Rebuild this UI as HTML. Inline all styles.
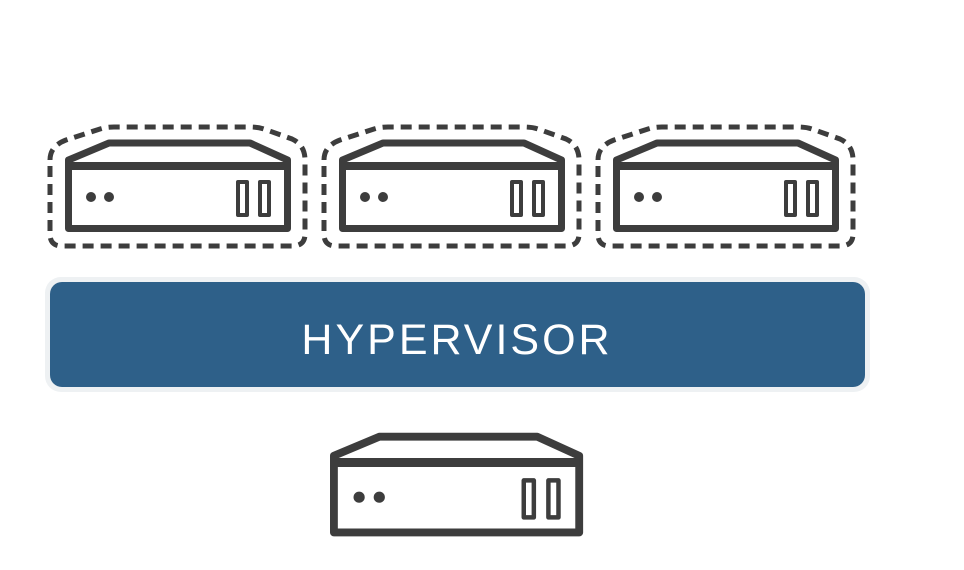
<!DOCTYPE html>
<html><head><style>
html,body{margin:0;padding:0;background:#fff;width:964px;height:570px;overflow:hidden}
</style></head><body>
<svg width="964" height="570" viewBox="0 0 964 570" xmlns="http://www.w3.org/2000/svg">
<defs>
<g id="srv" fill="none" stroke="#3d3d3d" stroke-width="7" stroke-linejoin="round">
  <path d="M3.5,66.5 V-2 L44,-19 H185 L222.5,-2 V66.5 Z"/>
  <line x1="3.5" y1="4" x2="222.5" y2="4" stroke-width="8"/>
  <circle cx="26" cy="35" r="5" fill="#3d3d3d" stroke="none"/>
  <circle cx="44" cy="35" r="5" fill="#3d3d3d" stroke="none"/>
  <rect x="173" y="20" width="9" height="33" stroke-width="4"/>
  <rect x="195" y="20" width="9" height="33" stroke-width="4"/>
</g>
<path id="dsh" d="M50,160 Q50,146 66,140 L100,129 Q106,127 114,127 H250 Q258,127 264,129 L292,139 Q305,145 305,160 V234 Q305,246 292,246 H62 Q50,246 50,234 Z" fill="none" stroke="#3d3d3d" stroke-width="5" stroke-dasharray="11 7"/>
</defs>
<use href="#srv" x="65" y="162"/>
<use href="#srv" x="339" y="162"/>
<use href="#srv" x="613" y="162"/>
<use href="#dsh" x="0" y="0"/>
<use href="#dsh" x="274" y="0"/>
<use href="#dsh" x="548" y="0"/>
<rect x="45" y="277" width="825" height="115" rx="16" fill="#eef1f3"/>
<rect x="50" y="282" width="815" height="105" rx="12" fill="#2e6089"/>
<text x="457" y="354" text-anchor="middle" font-family="Liberation Sans, sans-serif" font-size="43" fill="#fff" letter-spacing="3">HYPERVISOR</text>
<g transform="translate(330,458) scale(1.12,1.12)">
<use href="#srv" x="0" y="0"/>
</g>
</svg>
</body></html>
